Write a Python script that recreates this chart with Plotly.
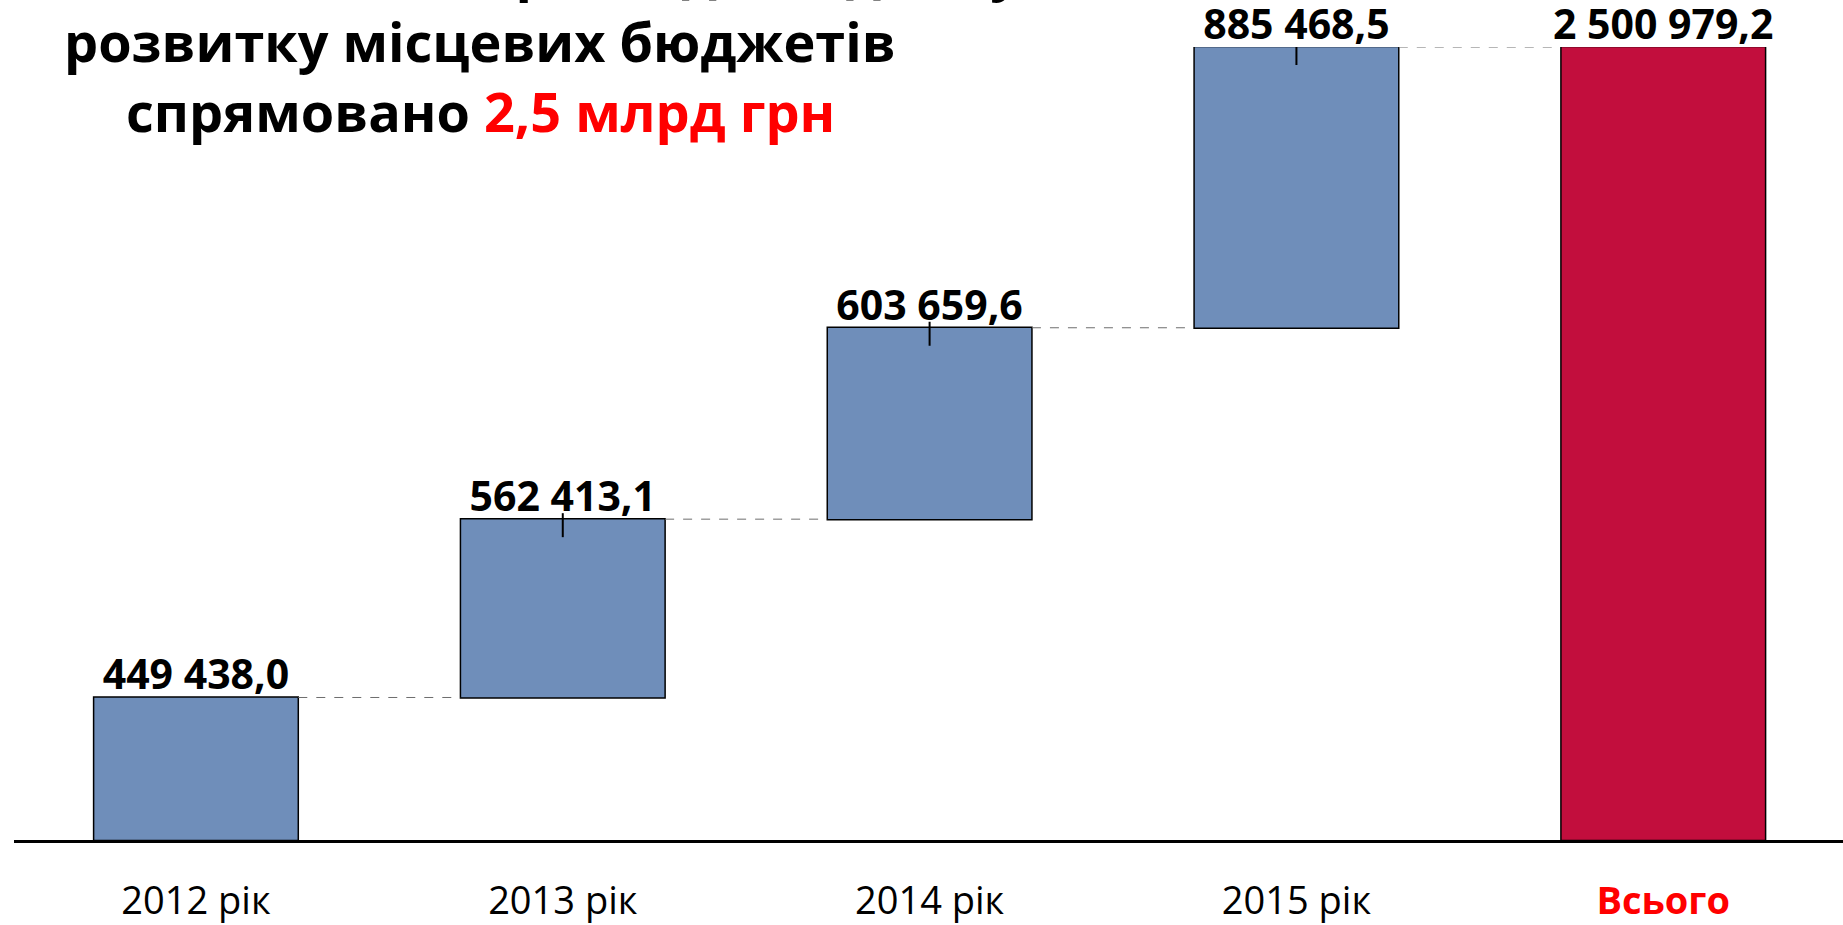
import plotly.graph_objects as go

# ---- data ----
categories = ["2012 рік", "2013 рік", "2014 рік", "2015 рік", "Всього"]
increments = [449438.0, 562413.1, 603659.6, 885468.5]
total_value = sum(increments)
values = increments + [total_value]
measures = ["relative"] * len(increments) + ["total"]

title_lines = ["Протягом 2012–2015 років до бюджету",
               "розвитку місцевих бюджетів"]
title_last_black = "спрямовано "
title_last_red = "2,5 млрд грн"


def fmt(v):
    s = f"{v:,.1f}"
    return s.replace(",", " ").replace(".", ",")


labels = [fmt(v) for v in values]

# bar tops (cumulative)
tops = []
run = 0
for v in increments:
    run += v
    tops.append(run)
tops.append(total_value)

W, H = 1843, 925
ML, MR, MT, MB = 14, 0, 47, 85
plot_h = H - MT - MB
plot_w = W - ML - MR
px_to_val = total_value / plot_h

FONT = "Open Sans"
BLUE = "#6F8EBA"
RED_BAR = "#C20E3D"

fig = go.Figure()

fig.add_trace(go.Waterfall(
    x=categories,
    y=values,
    measure=measures,
    textposition="none",
    cliponaxis=False,
    width=0.558,
    increasing=dict(marker=dict(color=BLUE, line=dict(color="black", width=1.5))),
    totals=dict(marker=dict(color=RED_BAR, line=dict(color="black", width=1.5))),
    connector=dict(mode="between", line=dict(color="#6e6e6e", width=1, dash="dash")),
    showlegend=False,
    hoverinfo="skip",
))

# small vertical marks at the tops of the 2013-2015 bars
fig.add_trace(go.Scatter(
    x=categories[1:4],
    y=tops[1:4],
    mode="markers",
    marker=dict(size=1, opacity=0),
    error_y=dict(type="data", symmetric=False,
                 array=[6 * px_to_val] * 3,
                 arrayminus=[18 * px_to_val] * 3,
                 width=0, thickness=2, color="black"),
    showlegend=False,
    hoverinfo="skip",
    cliponaxis=False,
))

# value labels above the bars
label_offset = 2 * px_to_val
fig.add_trace(go.Scatter(
    x=categories,
    y=[t - label_offset for t in tops],
    mode="text",
    text=labels,
    textposition="top center",
    textfont=dict(family=FONT, size=41, color="black", weight="bold"),
    showlegend=False,
    hoverinfo="skip",
    cliponaxis=False,
))

ticktext = categories[:-1] + ["<b><span style='color:#FF0000'>" + categories[-1] + "</span></b>"]

fig.update_layout(
    width=W, height=H,
    margin=dict(l=ML, r=MR, t=MT, b=MB, pad=0),
    paper_bgcolor="white",
    plot_bgcolor="white",
    font=dict(family=FONT, color="black"),
    xaxis=dict(
        range=[-0.496, 4.490],
        tickmode="array", tickvals=categories, ticktext=ticktext,
        tickfont=dict(family=FONT, size=38, color="black"),
        showline=True, linecolor="black", linewidth=3,
        ticks="", showgrid=False, zeroline=False,
        ticklabelstandoff=25,
    ),
    yaxis=dict(range=[0, total_value], visible=False, showgrid=False, zeroline=False),
)

title_x = (480 - ML) / plot_w
fig.add_annotation(xref="paper", yref="paper", x=title_x, y=1, xanchor="center", yanchor="middle",
                   yshift=78, text="<b>" + title_lines[0] + "</b>", showarrow=False,
                   font=dict(family=FONT, size=54, color="black"))
fig.add_annotation(xref="paper", yref="paper", x=title_x, y=1, xanchor="center", yanchor="middle",
                   yshift=6, text="<b>" + title_lines[1] + "</b>", showarrow=False,
                   font=dict(family=FONT, size=54, color="black"))
fig.add_annotation(xref="paper", yref="paper", x=title_x, y=1, xanchor="center", yanchor="middle",
                   yshift=-64,
                   text="<b>" + title_last_black + "<span style='color:#FF0000'>" + title_last_red + "</span></b>",
                   showarrow=False, font=dict(family=FONT, size=54, color="black"))

fig.write_html(
    "out.html",
    config={"displayModeBar": False},
    post_script="document.body.style.margin='0';document.documentElement.style.overflow='hidden';document.body.style.overflow='hidden';",
)
